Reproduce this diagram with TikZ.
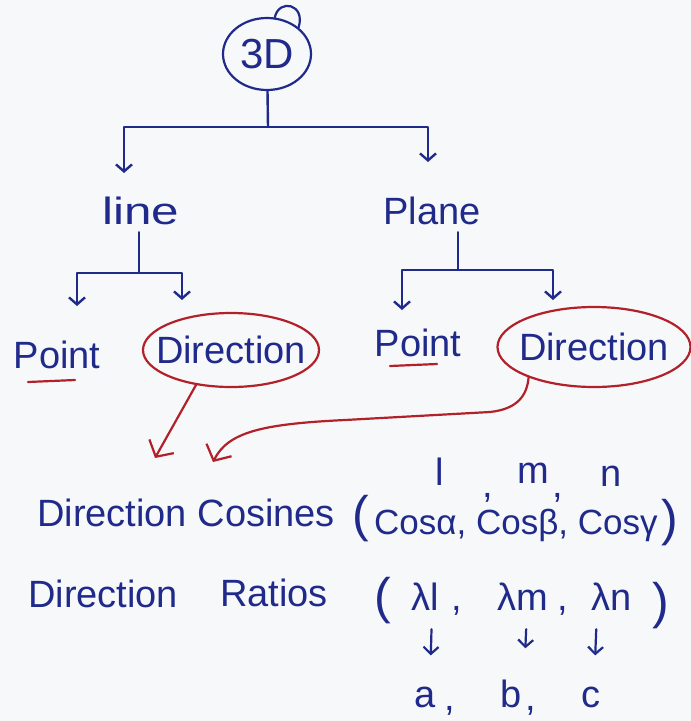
\documentclass[tikz,border=0pt]{standalone}
\usepackage{fontspec}
\setmainfont{Liberation Sans}
\usetikzlibrary{arrows.meta,shapes.geometric}
\definecolor{ink}{RGB}{32,42,138}
\definecolor{rink}{RGB}{178,32,42}
\definecolor{board}{RGB}{247,248,249}
\begin{document}
\begin{tikzpicture}[x=1pt,y=-1pt,
  txt/.style={text=ink,inner sep=0pt,font=\fontsize{38}{44}\selectfont},
  bigtxt/.style={txt,font=\fontsize{42}{48}\selectfont},
  costxt/.style={txt,font=\fontsize{35}{40}\selectfont},
  paren/.style={txt,font=\fontsize{50}{56}\selectfont},
  bline/.style={draw=ink,line width=2.4pt,line cap=round,line join=round},
  rline/.style={draw=rink,line width=2.2pt,line cap=round,line join=round},
  btip/.style={-{Straight Barb[length=7pt,width=16pt,line width=2.4pt]}},
  stip/.style={-{Straight Barb[length=7pt,width=15pt,line width=2.2pt]}},
  rtip/.style={-{Straight Barb[length=12pt,width=28pt,line width=2.2pt]}},
  oval/.style={ellipse,draw=rink,line width=2.2pt}]
\fill[board] (0,0) rectangle (691,721);
\useasboundingbox (0,0) rectangle (691,721);

% root
\node[bigtxt,ellipse,draw=ink,line width=2.2pt,minimum width=88pt,minimum height=72pt] (root) at (267,54) {3D};
\draw[draw=ink,line width=2.2pt,line cap=round] (root.78) .. controls (279,-2) and (306,4) .. (root.40);

% level 1
\node[txt] (line) at (141,211) {\scalebox{1.3}[1]{line}};
\node[txt] (plane) at (432,211) {Plane};

\coordinate (j1) at (268,127);
\coordinate (tl) at (124,173);
\coordinate (tr) at (428,162);
\draw[bline] (root) -- (j1);
\draw[bline,btip] (j1) -| (tl);
\draw[bline,btip] (j1) -| (tr);

% level 2
\node[txt,anchor=base] (lpoint) at (57,368) {Point};
\node[txt,oval,minimum width=176pt,minimum height=74pt] (ldir) at (231,350) {\makebox[110pt]{Direction}};
\node[txt,anchor=base] (rpoint) at (418,356) {Point};
\node[txt,oval,minimum width=193pt,minimum height=80pt] (rdir) at (594,347) {\makebox[120pt]{Direction}};

\coordinate (j2) at (139,273);
\coordinate (lpa) at (77,306);
\coordinate (lda) at (182,300);
\draw[bline,shorten <=7pt] (line.south -| j2) -- (j2);
\draw[bline,btip] (j2) -| (lpa);
\draw[bline,btip] (j2) -| (lda);

\coordinate (j3) at (458,270);
\coordinate (rpa) at (402,310);
\coordinate (rda) at (553,300);
\draw[bline,shorten <=7pt] (plane.south -| j3) -- (j3);
\draw[bline,btip] (j3) -| (rpa);
\draw[bline,btip] (j3) -| (rda);

% underlines
\draw[rline] (28,382) -- (75,380);
\draw[rline] (390,366) -- (437,364);

% red connectors
\coordinate (t1) at (155,458);
\coordinate (t2) at (213,462);
\draw[rline,rtip] (ldir.225) -- (t1);
\draw[rline,rtip] (rdir.205) .. controls (527,395) and (518,409) .. (490,412) -- (345,420) .. controls (262,424) and (228,432) .. (t2);

% row 1
\node[txt,anchor=base] (ell) at (440,485) {l};
\node[txt,anchor=base] (cm1) at (488,497) {,};
\node[txt,anchor=base] (em) at (533,483) {m};
\node[txt,anchor=base] (cm2) at (558,497) {,};
\node[txt,anchor=base] (en) at (611,486) {n};

\node[txt,anchor=base west] (dcos) at (37,526) {Direction Cosines};
\node[paren] (lp1) at (361,519) {(};
\node[costxt,anchor=base west] (cosg) at (374,534) {Cosα, Cosβ, Cosγ};
\node[paren] (rp1) at (670,523) {)};

% row 2
\node[txt,anchor=base west] (dir2) at (28,607) {Direction};
\node[txt,anchor=base west] (rat) at (220,606) {Ratios};
\node[paren] (lp2) at (383,601) {(};
\node[txt,anchor=base] (ll) at (425,610) {λl};
\node[txt,anchor=base] (k1) at (457,610) {,};
\node[txt,anchor=base] (lm) at (523,610) {λm};
\node[txt,anchor=base] (k2) at (563,610) {,};
\node[txt,anchor=base] (ln) at (612,610) {λn};
\node[paren] (rp2) at (661,606) {)};

% row 3
\node[txt,anchor=base] (na) at (425,707) {a};
\node[txt,anchor=base] (k3) at (450,710) {,};
\node[txt,anchor=base] (nb) at (511,707) {b};
\node[txt,anchor=base] (k4) at (531,710) {,};
\node[txt,anchor=base] (nc) at (591,707) {c};

\draw[bline,stip,line width=2.2pt,shorten <=19pt,shorten >=31pt] ([xshift=7pt]ll.south) -- ([xshift=5pt]na.north);
\draw[bline,stip,line width=2.2pt,shorten <=19pt,shorten >=31pt] ([xshift=4pt]lm.south) -- ([xshift=13pt]nb.north);
\draw[bline,stip,line width=2.2pt,shorten <=19pt,shorten >=31pt] ([xshift=-15pt]ln.south) -- ([xshift=3pt]nc.north);
\end{tikzpicture}
\end{document}
